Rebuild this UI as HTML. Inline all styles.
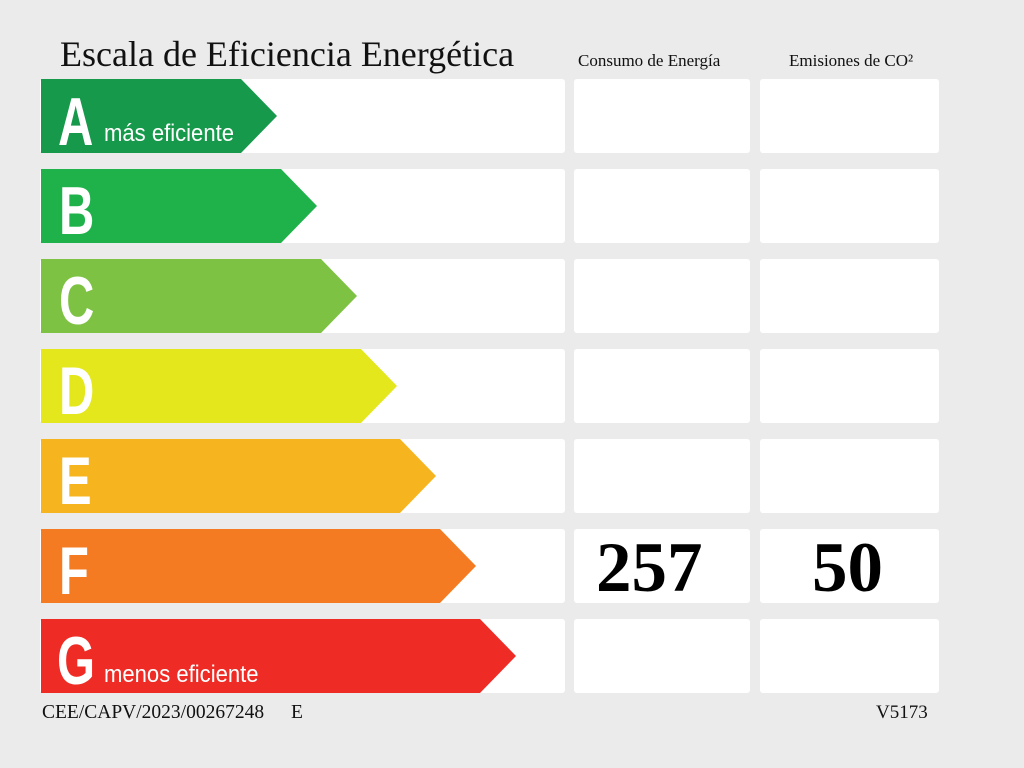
<!DOCTYPE html>
<html><head><meta charset="utf-8"><style>
html,body{margin:0;padding:0;background:#ebebeb;}
svg{display:block}
</style></head><body>
<svg width="1024" height="768" xmlns="http://www.w3.org/2000/svg">
<rect width="1024" height="768" fill="#ebebeb"/>
<text x="60" y="66" font-family="Liberation Serif, serif" font-size="36" fill="#111">Escala de Eficiencia Energética</text>
<text x="578" y="66" font-family="Liberation Serif, serif" font-size="17" fill="#111">Consumo de Energía</text>
<text x="789" y="66" font-family="Liberation Serif, serif" font-size="17" fill="#111">Emisiones de CO²</text>
<g fill="#fff">
<rect x="40" y="79" width="525" height="74" rx="3"/><rect x="574" y="79" width="176" height="74" rx="3"/><rect x="760" y="79" width="179" height="74" rx="3"/>
<rect x="40" y="169" width="525" height="74" rx="3"/><rect x="574" y="169" width="176" height="74" rx="3"/><rect x="760" y="169" width="179" height="74" rx="3"/>
<rect x="40" y="259" width="525" height="74" rx="3"/><rect x="574" y="259" width="176" height="74" rx="3"/><rect x="760" y="259" width="179" height="74" rx="3"/>
<rect x="40" y="349" width="525" height="74" rx="3"/><rect x="574" y="349" width="176" height="74" rx="3"/><rect x="760" y="349" width="179" height="74" rx="3"/>
<rect x="40" y="439" width="525" height="74" rx="3"/><rect x="574" y="439" width="176" height="74" rx="3"/><rect x="760" y="439" width="179" height="74" rx="3"/>
<rect x="40" y="529" width="525" height="74" rx="3"/><rect x="574" y="529" width="176" height="74" rx="3"/><rect x="760" y="529" width="179" height="74" rx="3"/>
<rect x="40" y="619" width="525" height="74" rx="3"/><rect x="574" y="619" width="176" height="74" rx="3"/><rect x="760" y="619" width="179" height="74" rx="3"/>
</g>
<polygon points="41,79 241,79 277,116 241,153 41,153" fill="#16994b"/>
<polygon points="41,169 281,169 317,206 281,243 41,243" fill="#1fb24a"/>
<polygon points="41,259 321,259 357,296 321,333 41,333" fill="#7dc243"/>
<polygon points="41,349 361,349 397,386 361,423 41,423" fill="#e3e71b"/>
<polygon points="41,439 400,439 436,476 400,513 41,513" fill="#f6b41f"/>
<polygon points="41,529 440,529 476,566 440,603 41,603" fill="#f47b21"/>
<polygon points="41,619 480,619 516,656 480,693 41,693" fill="#ef2b25"/>
<g font-family="Liberation Sans, sans-serif" font-weight="bold" fill="#fff" font-size="68">
<text x="58" y="145" transform="scale(0.72,1)" transform-origin="58 145">A</text>
<text x="59" y="234" transform="scale(0.72,1)" transform-origin="59 234">B</text>
<text x="59" y="324" transform="scale(0.72,1)" transform-origin="59 324">C</text>
<text x="59" y="414" transform="scale(0.72,1)" transform-origin="59 414">D</text>
<text x="59" y="504" transform="scale(0.72,1)" transform-origin="59 504">E</text>
<text x="59" y="594" transform="scale(0.72,1)" transform-origin="59 594">F</text>
<text x="57" y="684" transform="scale(0.72,1)" transform-origin="57 684">G</text>
</g>
<g font-family="Liberation Sans, sans-serif" fill="#fff" font-size="24">
<text x="104" y="141" transform="scale(0.92,1)" transform-origin="104 141">más eficiente</text>
<text x="104" y="682" transform="scale(0.92,1)" transform-origin="104 682">menos eficiente</text>
</g>
<text x="596" y="591" font-family="Liberation Serif, serif" font-weight="bold" font-size="71" fill="#000">257</text>
<text x="812" y="591" font-family="Liberation Serif, serif" font-weight="bold" font-size="71" fill="#000">50</text>
<text x="42" y="718" font-family="Liberation Serif, serif" font-size="19.5" fill="#111">CEE/CAPV/2023/00267248</text>
<text x="291" y="718" font-family="Liberation Serif, serif" font-size="19.5" fill="#111">E</text>
<text x="876" y="718" font-family="Liberation Serif, serif" font-size="19" fill="#111">V5173</text>
</svg>
</body></html>
